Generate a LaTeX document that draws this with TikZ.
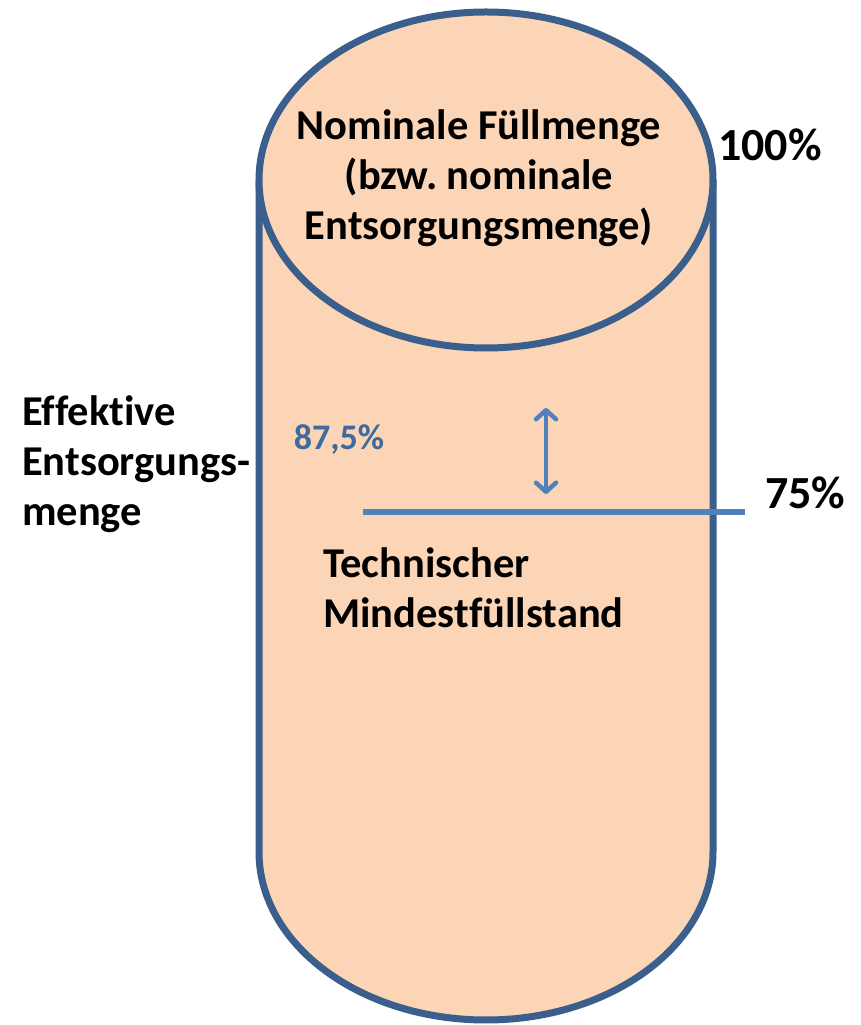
\documentclass[tikz,border=0pt]{standalone}
\usepackage{fontspec}
\setmainfont[Ligatures=NoCommon]{Carlito}
\usetikzlibrary{arrows.meta}
\definecolor{tankfill}{HTML}{FBD5B5}
\definecolor{tankline}{HTML}{3A5F8C}
\definecolor{levelblue}{HTML}{4F81BD}
\definecolor{midblue}{HTML}{3F6A9C}
\frenchspacing

\begin{document}
\begin{tikzpicture}[x=1pt,y=1pt,
    label/.style={font=\bfseries\fontsize{42.5}{50}\selectfont,inner sep=0pt},
    pct/.style={font=\bfseries\fontsize{46}{50}\selectfont,inner sep=0pt}]
   \useasboundingbox (0,0) rectangle (861,1025);
   \filldraw[draw=tankline,fill=tankfill,line width=7pt]
     (259,845) -- (259,173) arc[start angle=180,end angle=360,x radius=227,y radius=168] -- (713,845);
   \filldraw[draw=tankline,fill=tankfill,line width=7pt]
     (486,845) ellipse[x radius=227,y radius=168];
   \node[label,align=center] (nominal) at (479,847) {Nominale Füllmenge\\(bzw. nominale\\Entsorgungsmenge)};
   \node[pct] (full) at (770,880) {100\%};
   \coordinate (levelL) at (363,513);
   \coordinate (levelR) at (745,513);
   \draw[levelblue,line width=6pt] (levelL) -- (levelR);
   \node[pct,anchor=west] (quarter) at (765,532) {75\%};
   \coordinate (arrTop) at (546,617);
   \coordinate (arrBot) at (546,531);
   \draw[levelblue,line width=4.5pt,line cap=round,{Straight Barb[length=9pt,width=20pt,round]}-{Straight Barb[length=9pt,width=20pt,round]}] (arrBot) -- (arrTop);
   \node[font=\bfseries\fontsize{36}{40}\selectfont,text=midblue,inner sep=0pt] (mid) at (339,585) {87,5\%};
   \node[label,align=left,anchor=west] (minimum) at (323,437) {Technischer\\Mindestfüllstand};
   \node[label,align=left,anchor=west] (effective) at (22,561) {Effektive\\Entsorgungs-\\menge};
  \end{tikzpicture}
\end{document}
